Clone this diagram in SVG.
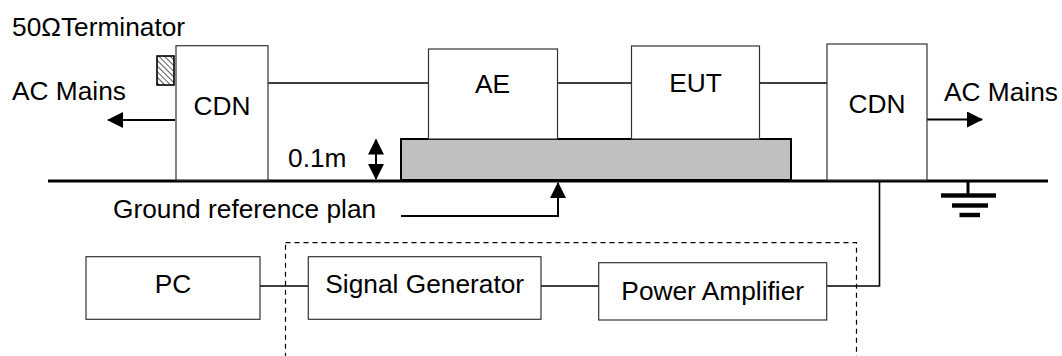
<svg xmlns="http://www.w3.org/2000/svg" width="1062" height="356" viewBox="0 0 1062 356">
  <defs>
    <style>
      .box { fill: #ffffff; stroke: #333333; stroke-width: 1.2; }
      .lbl { font-family: "Liberation Sans", Arial, sans-serif; font-size: 26.3px; fill: #000000; }
      .mid { text-anchor: middle; }
      .wire { fill: none; stroke: #000000; stroke-width: 1.6; }
      .arrow { fill: none; stroke: #000000; stroke-width: 2; }
    </style>
    <marker id="arr" viewBox="0 0 16 16" refX="15" refY="8" markerWidth="16" markerHeight="16" markerUnits="userSpaceOnUse" orient="auto-start-reverse">
      <path d="M0,0 L16,8 L0,16 z" fill="#000000"/>
    </marker>
    <pattern id="hatch" width="4" height="4" patternUnits="userSpaceOnUse" patternTransform="rotate(-45)">
      <rect width="4" height="4" fill="#ffffff"/>
      <line x1="0" y1="0" x2="0" y2="4" stroke="#333333" stroke-width="1.6"/>
    </pattern>
  </defs>
  <rect width="1062" height="356" fill="#ffffff"/>

  <text class="lbl" x="12" y="36">50ΩTerminator</text>
  <text class="lbl" x="12" y="100">AC Mains</text>
  <text class="lbl" x="944" y="101">AC Mains</text>
  <text class="lbl" x="288" y="167">0.1m</text>
  <text class="lbl" x="113" y="217.5">Ground reference plan</text>

  <g id="terminator">
    <rect x="157" y="56" width="17" height="29" fill="url(#hatch)" stroke="#000000" stroke-width="1.6"/>
  </g>

  <g id="plate">
    <rect x="401" y="139" width="390" height="41" fill="#c0c0c0" stroke="#000000" stroke-width="2"/>
  </g>

  <g id="connectors">
    <line class="wire" x1="268" y1="83" x2="428.5" y2="83"/>
    <line class="wire" x1="557.5" y1="83" x2="631.5" y2="83"/>
    <line class="wire" x1="759.5" y1="83" x2="827" y2="83"/>
    <line class="arrow" x1="175" y1="120" x2="108" y2="120" marker-end="url(#arr)"/>
    <line class="arrow" x1="927" y1="119.5" x2="982" y2="119.5" marker-end="url(#arr)"/>
    <line class="arrow" x1="376" y1="139.5" x2="376" y2="179" marker-start="url(#arr)" marker-end="url(#arr)"/>
    <polyline class="arrow" points="401,216 558,216 558,183" marker-end="url(#arr)"/>
    <line class="wire" x1="260" y1="286" x2="308" y2="286"/>
    <line class="wire" x1="541" y1="286" x2="598.7" y2="286"/>
    <polyline class="wire" points="826.7,286 879.5,286 879.5,182"/>
  </g>

  <g id="ground">
    <line x1="48" y1="181" x2="1048" y2="181" stroke="#000000" stroke-width="3"/>
    <line x1="968" y1="181" x2="968" y2="194" stroke="#000000" stroke-width="3"/>
    <rect x="941" y="193.3" width="55" height="4.4" fill="#000000"/>
    <rect x="952" y="203.3" width="36" height="4.4" fill="#000000"/>
    <rect x="959.5" y="212.8" width="20.5" height="4.4" fill="#000000"/>
  </g>

  <g id="cdn-left">
    <rect class="box" x="176" y="45.7" width="92" height="134.3"/>
    <text class="lbl mid" x="222" y="114.5">CDN</text>
  </g>
  <g id="ae">
    <rect class="box" x="428.5" y="49" width="129" height="90"/>
    <text class="lbl mid" x="492.5" y="93.3">AE</text>
  </g>
  <g id="eut">
    <rect class="box" x="631.5" y="46" width="128" height="93"/>
    <text class="lbl mid" x="695.5" y="91.7">EUT</text>
  </g>
  <g id="cdn-right">
    <rect class="box" x="827" y="44" width="100" height="136"/>
    <text class="lbl mid" x="877" y="113">CDN</text>
  </g>

  <g id="amp-group">
    <rect x="285.5" y="242.7" width="571" height="130" fill="none" stroke="#000000" stroke-width="1.2" stroke-dasharray="5,4"/>
  </g>

  <g id="pc">
    <rect class="box" x="86" y="256.7" width="174" height="62.6"/>
    <text class="lbl mid" x="173" y="293.3">PC</text>
  </g>
  <g id="signal-generator">
    <rect class="box" x="308.3" y="256.7" width="232.7" height="62.6"/>
    <text class="lbl mid" x="424.7" y="293.3">Signal Generator</text>
  </g>
  <g id="power-amplifier">
    <rect class="box" x="598.7" y="262.7" width="228" height="57.3"/>
    <text class="lbl mid" x="712.7" y="300">Power Amplifier</text>
  </g>
</svg>
